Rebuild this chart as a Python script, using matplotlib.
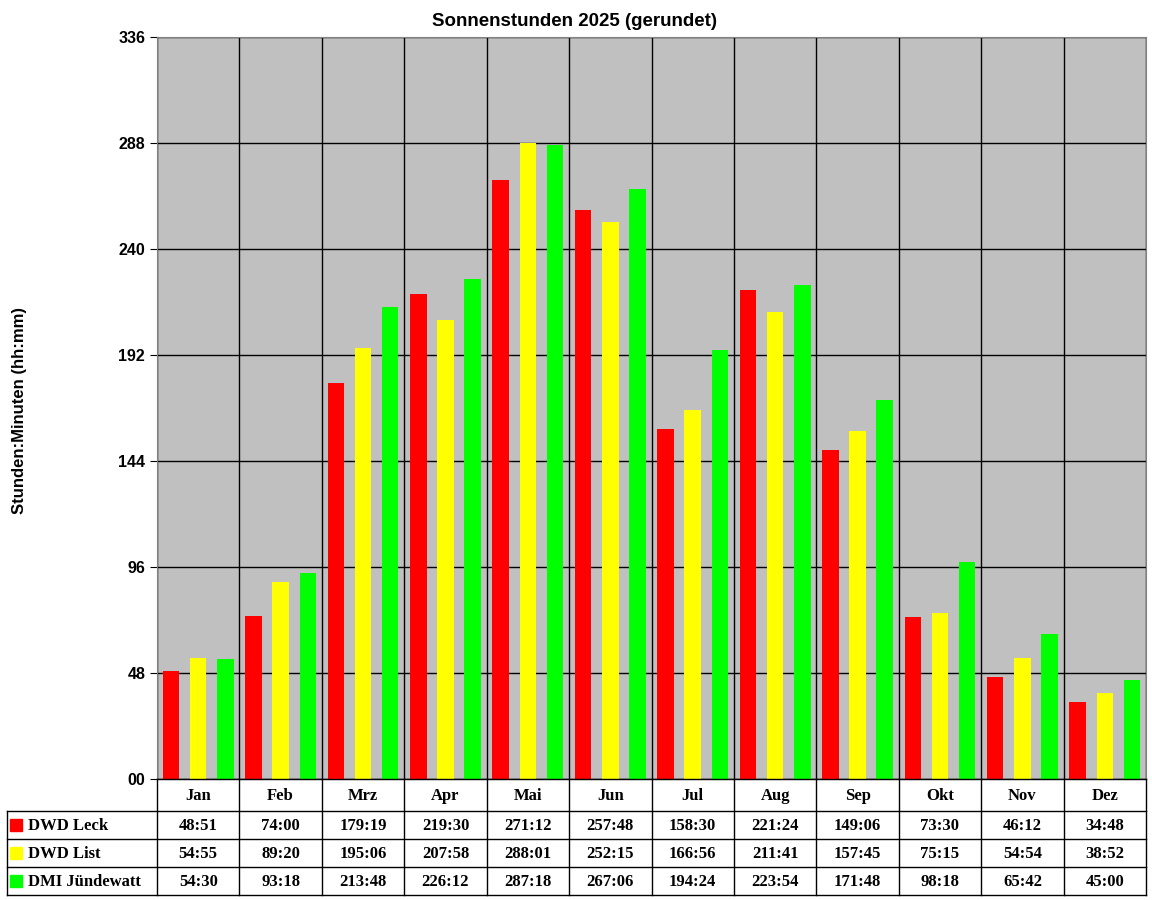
import matplotlib
matplotlib.use("Agg")
import matplotlib.pyplot as plt
import numpy as np

months = ["Jan","Feb","Mrz","Apr","Mai","Jun","Jul","Aug","Sep","Okt","Nov","Dez"]
series = ["DWD Leck","DWD List","DMI Jündewatt"]
colors = ["#FF0000","#FFFF00","#00FF00"]
leck = ["48:51","74:00","179:19","219:30","271:12","257:48","158:30","221:24","149:06","73:30","46:12","34:48"]
lst = ["54:55","89:20","195:06","207:58","288:01","252:15","166:56","211:41","157:45","75:15","54:54","38:52"]
dmi = ["54:30","93:18","213:48","226:12","287:18","267:06","194:24","223:54","171:48","98:18","65:42","45:00"]
data = [leck, lst, dmi]
yticks = [0,48,96,144,192,240,288,336]
ylabels = ["00","48","96","144","192","240","288","336"]

def hrs(s):
    h, m = s.split(":")
    return int(h) + int(m)/60

fig = plt.figure(figsize=(11.52, 9), dpi=100)
W, H = 1152, 900
L, R, T, B = 157, 1146, 37, 779
ax = fig.add_axes([L/W, 1-B/H, (R-L)/W, (B-T)/H])
ax.set_facecolor("#C0C0C0")
x = np.arange(len(months))
for i, (d, c) in enumerate(zip(data, colors)):
    ax.bar(x + (i-1)*0.33, [hrs(v) for v in d], width=0.2, color=c, zorder=3)
ax.set_xlim(-0.5, len(months)-0.5)
ax.set_ylim(0, 336)
ax.set_yticks(yticks)
ax.set_yticklabels(ylabels, fontfamily="Liberation Sans", fontweight="bold", fontsize=11.5)
ax.set_xticks(np.arange(len(months)+1)-0.5)
ax.set_xticklabels([])
ax.tick_params(axis="x", length=0)
ax.tick_params(axis="y", length=5, direction="out")
ax.grid(True, color="black", linewidth=1, zorder=0)
for s in ax.spines.values():
    s.set_color("#808080")
fig.text(575/W, 1-22/H, "Sonnenstunden 2025 (gerundet)", ha="center", va="center",
         fontfamily="Liberation Sans", fontweight="bold", fontsize=13.5)
fig.text(20/W, 1-410/H, "Stunden:Minuten (hh:mm)", rotation=90, ha="center", va="center",
         fontfamily="Liberation Sans", fontweight="bold", fontsize=12)

# table
tab = fig.add_axes([0, 0, 1, 1], facecolor="none")
tab.set_xlim(0, W); tab.set_ylim(H, 0); tab.axis("off")
rows_y = [779, 811, 839, 867, 895]
cw = (R-L)/len(months)
kw = dict(color="black", linewidth=1)
for yy in rows_y[1:]:
    tab.plot([7, R], [yy, yy], **kw)
tab.plot([L, R], [rows_y[0], rows_y[0]], **kw)
tab.plot([7, 7], [rows_y[1], rows_y[-1]], **kw)
for j in range(len(months)+1):
    tab.plot([L+j*cw]*2, [rows_y[0], rows_y[-1]], **kw)
tf = dict(fontfamily="Liberation Serif", fontweight="bold", fontsize=12, ha="center", va="center")
for j, m in enumerate(months):
    tab.text(L+(j+0.5)*cw, 796, m, **tf)
for i, (nm, c, d) in enumerate(zip(series, colors, data)):
    yc = (rows_y[i+1]+rows_y[i+2])/2
    tab.add_patch(plt.Rectangle((10, yc-6), 12, 12, color=c))
    tab.text(28, yc+1, nm, fontfamily="Liberation Serif", fontweight="bold", fontsize=12, ha="left", va="center")
    for j, v in enumerate(d):
        tab.text(L+(j+0.5)*cw, yc+1, v, **tf)

fig.savefig("out.png", dpi=100)
